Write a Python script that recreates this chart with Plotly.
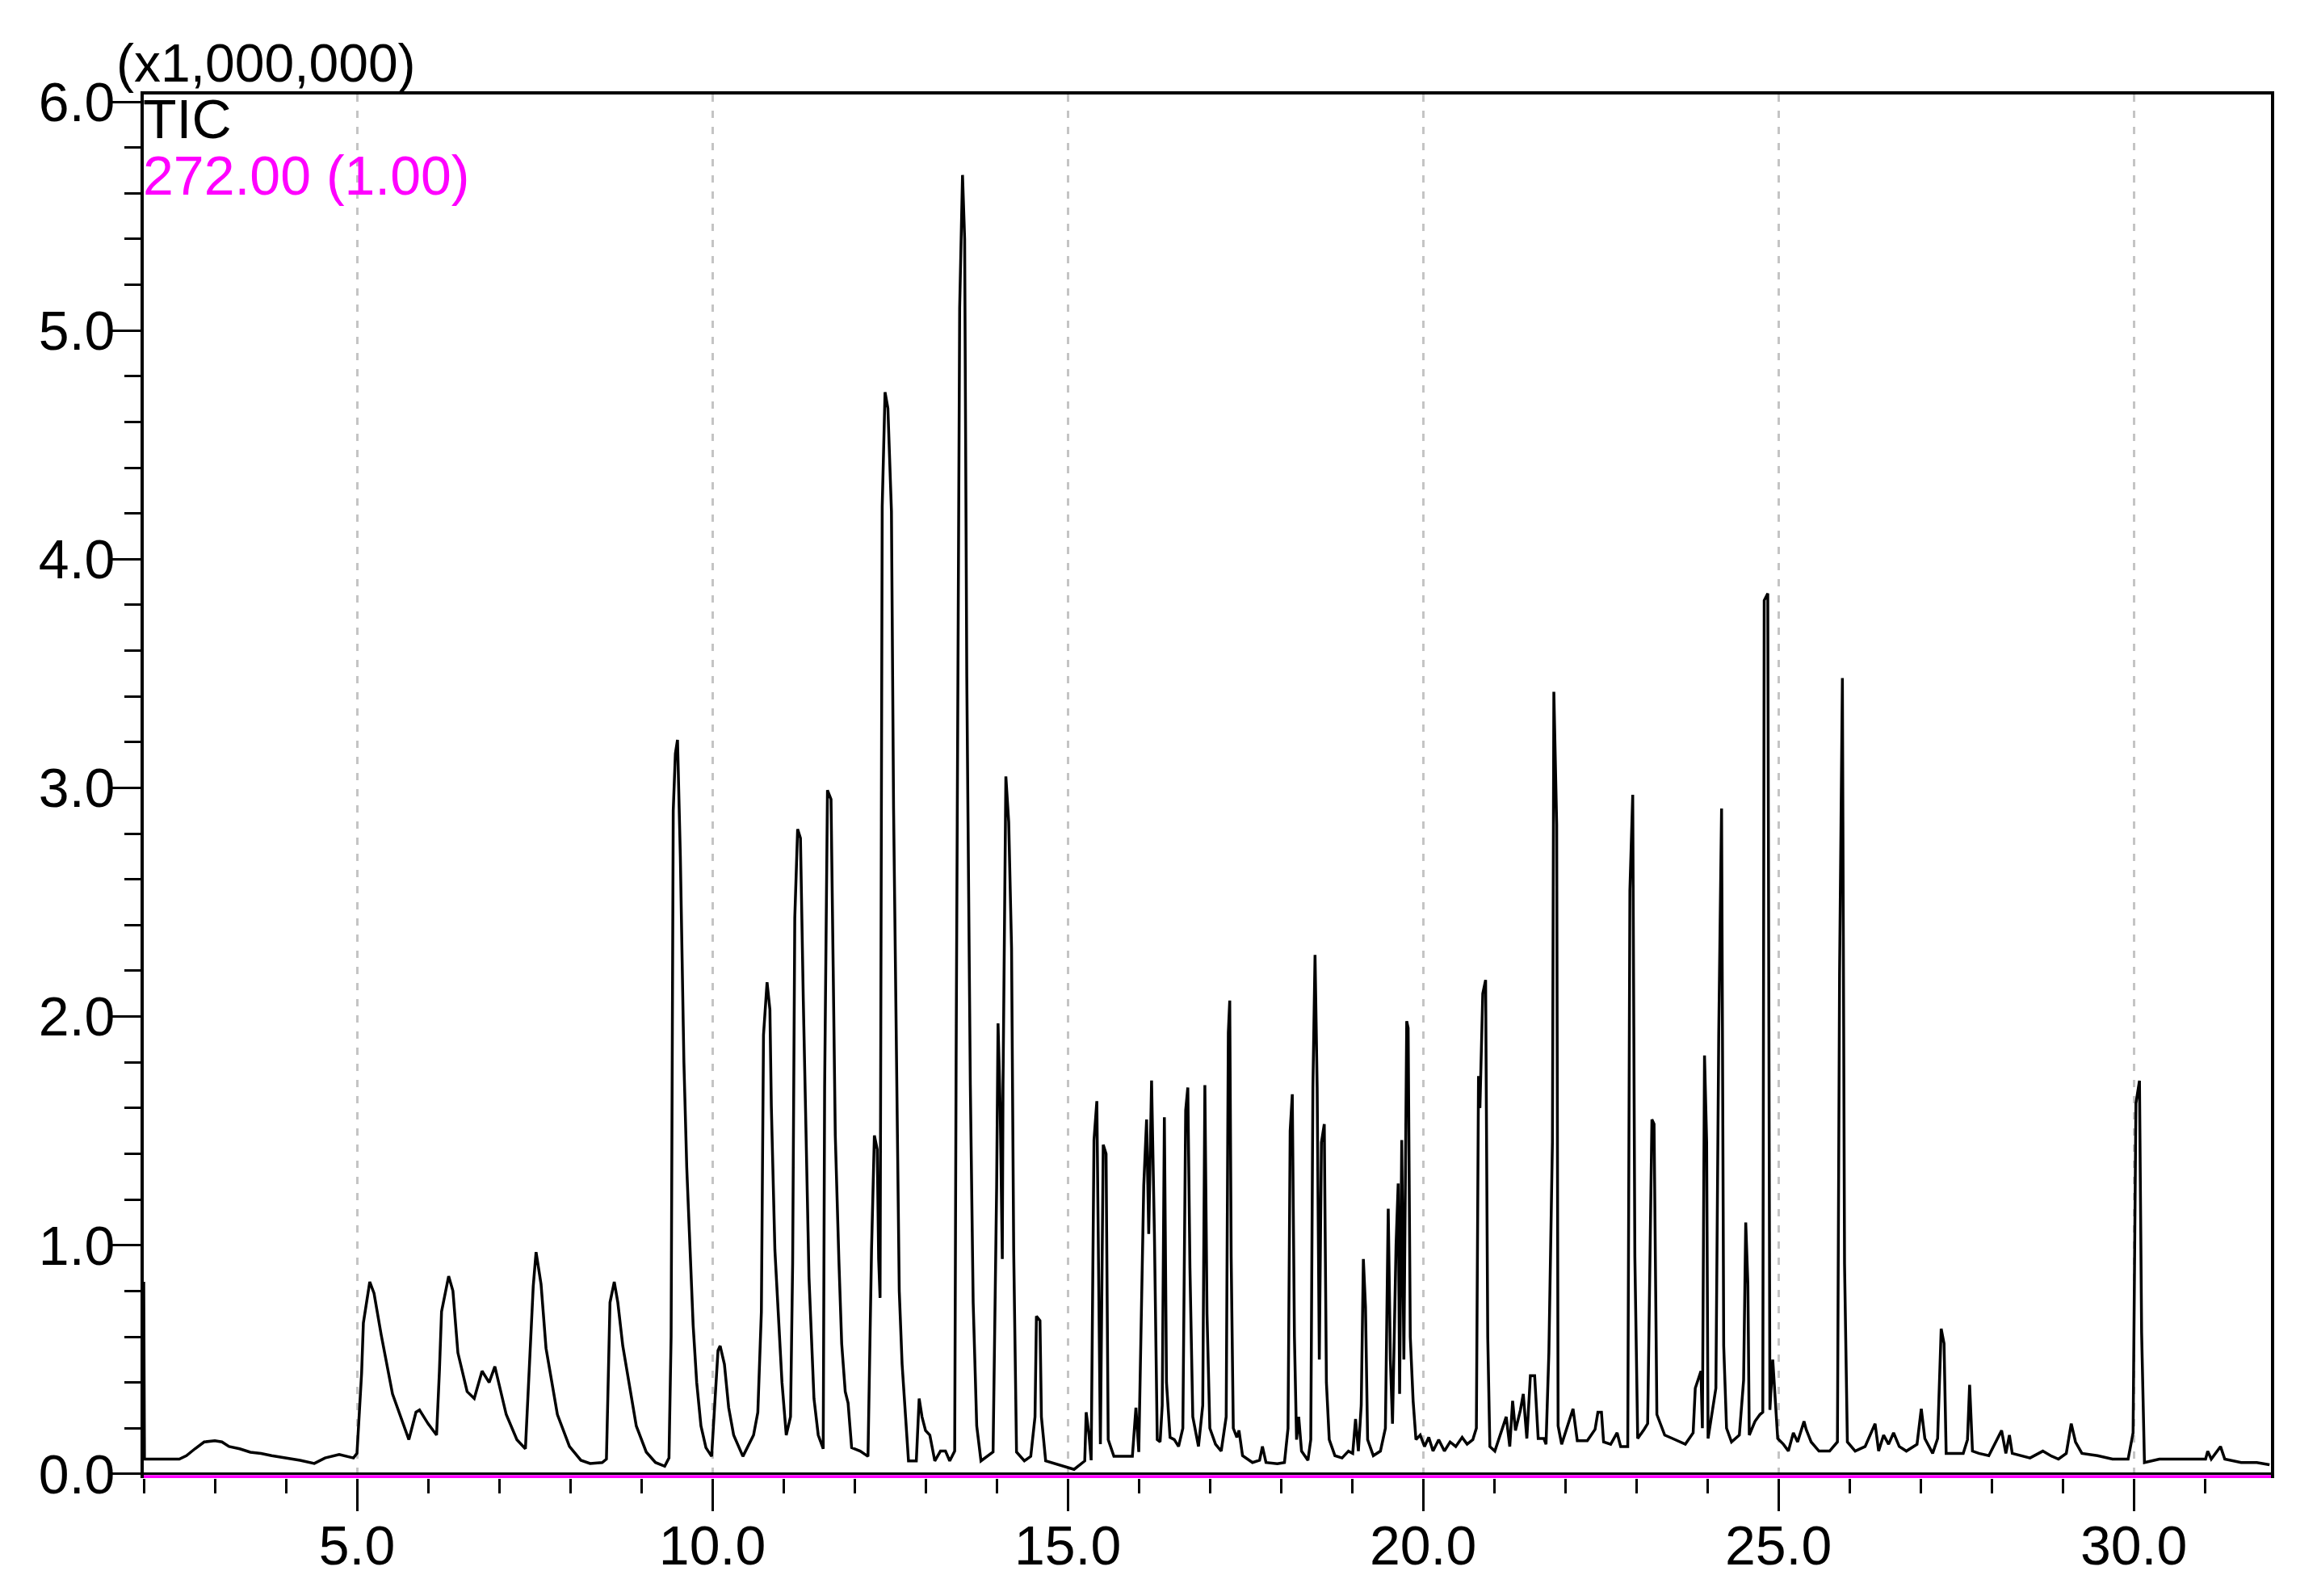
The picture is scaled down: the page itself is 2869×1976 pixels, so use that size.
"""GC-MS total ion chromatogram (TIC) rebuilt with Plotly."""

import plotly.graph_objects as go

INK = "#000000"
MAGENTA = "#ff00ff"
GRID = "#c4c4c4"
FONT = "Liberation Sans, Arial, sans-serif"

# retention time (min), intensity (x1,000,000)
tic_2_to_10 = [
    (2.00, 0.84), (2.01, 0.065), (2.50, 0.065), (2.60, 0.08), (2.72, 0.11),
    (2.85, 0.14), (3.00, 0.145), (3.10, 0.14), (3.20, 0.12), (3.35, 0.11),
    (3.50, 0.095), (3.65, 0.09), (3.80, 0.08), (4.00, 0.07), (4.20, 0.06),
    (4.40, 0.046), (4.55, 0.07), (4.75, 0.085), (4.95, 0.07), (5.00, 0.09),
    (5.03, 0.25), (5.065, 0.44), (5.09, 0.66), (5.18, 0.84), (5.24, 0.79),
    (5.34, 0.61), (5.50, 0.35), (5.73, 0.15), (5.83, 0.27), (5.88, 0.28),
    (6.00, 0.22), (6.12, 0.17), (6.16, 0.45), (6.19, 0.71), (6.29, 0.865),
    (6.35, 0.80), (6.42, 0.53), (6.55, 0.36), (6.65, 0.33), (6.76, 0.45),
    (6.86, 0.40), (6.94, 0.47), (7.10, 0.26), (7.25, 0.15), (7.37, 0.11),
    (7.43, 0.53), (7.48, 0.82), (7.52, 0.97), (7.59, 0.83), (7.66, 0.55),
    (7.82, 0.26), (7.99, 0.12), (8.15, 0.06), (8.28, 0.046), (8.45, 0.05),
    (8.51, 0.065), (8.56, 0.75), (8.62, 0.84), (8.67, 0.75), (8.74, 0.56),
    (8.93, 0.21), (9.07, 0.096), (9.20, 0.05), (9.33, 0.034), (9.39, 0.07),
    (9.42, 0.60), (9.45, 2.90), (9.48, 3.15), (9.51, 3.21), (9.55, 2.70),
    (9.60, 1.80), (9.64, 1.34), (9.69, 0.94), (9.73, 0.65), (9.78, 0.40),
    (9.84, 0.21), (9.91, 0.115), (9.99, 0.077),
]

tic_10_to_16 = [
    (10.035, 0.31), (10.08, 0.54), (10.11, 0.56), (10.17, 0.48), (10.23, 0.29),
    (10.30, 0.17), (10.43, 0.077), (10.58, 0.17), (10.64, 0.27), (10.69, 0.71),
    (10.72, 1.92), (10.77, 2.15), (10.81, 2.03), (10.83, 1.61), (10.88, 0.98),
    (10.94, 0.65), (10.98, 0.40), (11.04, 0.17), (11.10, 0.25), (11.13, 0.92),
    (11.16, 2.43), (11.20, 2.82), (11.24, 2.78), (11.28, 2.07), (11.32, 1.42),
    (11.36, 0.86), (11.43, 0.33), (11.49, 0.17), (11.56, 0.11), (11.58, 1.69),
    (11.62, 2.99), (11.67, 2.95), (11.70, 2.22), (11.73, 1.48), (11.78, 0.94),
    (11.82, 0.57), (11.87, 0.36), (11.91, 0.31), (11.96, 0.115), (12.08, 0.10),
    (12.19, 0.077), (12.24, 0.98), (12.28, 1.48), (12.32, 1.42), (12.34, 0.94),
    (12.36, 0.77), (12.39, 4.23), (12.43, 4.73), (12.47, 4.66), (12.52, 4.21),
    (12.55, 2.91), (12.60, 1.72), (12.63, 0.80), (12.67, 0.48), (12.71, 0.27),
    (12.76, 0.057), (12.87, 0.057), (12.91, 0.33), (12.95, 0.25), (13.00, 0.19),
    (13.06, 0.17), (13.13, 0.057), (13.21, 0.10), (13.28, 0.10), (13.34, 0.057),
    (13.41, 0.10), (13.43, 1.80), (13.48, 5.10), (13.52, 5.68), (13.55, 5.40),
    (13.58, 3.49), (13.63, 1.70), (13.67, 0.75), (13.72, 0.21), (13.78, 0.057),
    (13.95, 0.096), (14.00, 1.25), (14.02, 1.97), (14.05, 1.61), (14.08, 0.94),
    (14.09, 1.70), (14.13, 3.05), (14.17, 2.85), (14.21, 2.30), (14.24, 0.98),
    (14.28, 0.096), (14.39, 0.057), (14.48, 0.077), (14.54, 0.25), (14.56, 0.69),
    (14.61, 0.67), (14.63, 0.25), (14.69, 0.057), (14.87, 0.04), (15.09, 0.02),
    (15.24, 0.057), (15.26, 0.27), (15.30, 0.17), (15.33, 0.06), (15.37, 1.46),
    (15.41, 1.63), (15.46, 0.13), (15.50, 1.44), (15.54, 1.40), (15.57, 0.15),
    (15.65, 0.077), (15.91, 0.077), (15.96, 0.29), (16.00, 0.096), (16.07, 1.26),
    (16.11, 1.55), (16.14, 1.05), (16.18, 1.72), (16.22, 1.05), (16.26, 0.15),
]

tic_16_to_21 = [
    (16.30, 0.14), (16.33, 0.30), (16.36, 1.56), (16.39, 0.40), (16.44, 0.16),
    (16.50, 0.15), (16.56, 0.12), (16.62, 0.20), (16.66, 1.59), (16.69, 1.69),
    (16.72, 0.90), (16.76, 0.25), (16.84, 0.12), (16.90, 0.30), (16.93, 1.70),
    (16.96, 0.70), (17.00, 0.20), (17.08, 0.13), (17.16, 0.10), (17.23, 0.25),
    (17.26, 1.93), (17.28, 2.07), (17.30, 0.95), (17.33, 0.20), (17.38, 0.16),
    (17.41, 0.19), (17.46, 0.08), (17.60, 0.05), (17.70, 0.06), (17.74, 0.12),
    (17.79, 0.05), (17.95, 0.045), (18.05, 0.05), (18.10, 0.20), (18.13, 1.50),
    (18.16, 1.66), (18.19, 0.60), (18.22, 0.15), (18.25, 0.25), (18.29, 0.10),
    (18.38, 0.06), (18.42, 0.15), (18.45, 1.69), (18.48, 2.27), (18.51, 1.69),
    (18.54, 0.50), (18.57, 1.45), (18.61, 1.53), (18.64, 0.40), (18.68, 0.15),
    (18.76, 0.08), (18.86, 0.07), (18.95, 0.10), (19.01, 0.09), (19.05, 0.24),
    (19.09, 0.10), (19.13, 0.30), (19.16, 0.94), (19.19, 0.73), (19.22, 0.15),
    (19.30, 0.08), (19.40, 0.10), (19.47, 0.20), (19.51, 1.16), (19.54, 0.50),
    (19.57, 0.22), (19.62, 1.00), (19.65, 1.27), (19.67, 0.35), (19.70, 1.46),
    (19.73, 0.50), (19.77, 1.98), (19.79, 1.95), (19.82, 0.60), (19.86, 0.32),
    (19.90, 0.15), (19.96, 0.17), (20.02, 0.12), (20.08, 0.16), (20.14, 0.10),
    (20.22, 0.15), (20.30, 0.10), (20.38, 0.14), (20.46, 0.12), (20.55, 0.16),
    (20.62, 0.13), (20.70, 0.15), (20.75, 0.20), (20.78, 1.74), (20.80, 1.60),
    (20.84, 2.10), (20.88, 2.16), (20.91, 0.60), (20.94, 0.12),
]

tic_21_to_32 = [
    (21.01, 0.10), (21.17, 0.25), (21.22, 0.12), (21.26, 0.32), (21.30, 0.19),
    (21.37, 0.28), (21.41, 0.35), (21.46, 0.155), (21.51, 0.43), (21.57, 0.43),
    (21.62, 0.155), (21.70, 0.155), (21.73, 0.13), (21.77, 0.53), (21.82, 1.45),
    (21.84, 3.42), (21.88, 2.84), (21.90, 0.21), (21.95, 0.13), (22.08, 0.26),
    (22.11, 0.285), (22.17, 0.145), (22.31, 0.145), (22.42, 0.195), (22.46, 0.27),
    (22.51, 0.27), (22.54, 0.14), (22.64, 0.13), (22.73, 0.18), (22.78, 0.12),
    (22.88, 0.12), (22.91, 2.55), (22.95, 2.97), (22.98, 0.95), (23.02, 0.155),
    (23.11, 0.195), (23.16, 0.22), (23.22, 1.55), (23.25, 1.53), (23.29, 0.26),
    (23.40, 0.17), (23.51, 0.155), (23.69, 0.13), (23.80, 0.18), (23.83, 0.375),
    (23.91, 0.45), (23.93, 0.20), (23.96, 1.83), (23.99, 1.45), (24.01, 0.155),
    (24.09, 0.32), (24.12, 0.375), (24.16, 1.92), (24.20, 2.91), (24.23, 0.56),
    (24.27, 0.20), (24.34, 0.14), (24.45, 0.17), (24.51, 0.41), (24.54, 1.10),
    (24.57, 0.83), (24.59, 0.17), (24.67, 0.23), (24.74, 0.26), (24.78, 0.27),
    (24.80, 3.82), (24.85, 3.85), (24.88, 0.28), (24.92, 0.50), (24.96, 0.31),
    (24.99, 0.155), (25.07, 0.13), (25.14, 0.10), (25.21, 0.18), (25.27, 0.14),
    (25.36, 0.23), (25.39, 0.195), (25.46, 0.14), (25.57, 0.10), (25.72, 0.10),
    (25.83, 0.14), (25.86, 2.18), (25.90, 3.48), (25.93, 0.92), (25.97, 0.14),
    (26.08, 0.10), (26.22, 0.12), (26.36, 0.22), (26.41, 0.10), (26.48, 0.17),
    (26.55, 0.13), (26.62, 0.18), (26.70, 0.12), (26.80, 0.10), (26.95, 0.13),
    (27.01, 0.285), (27.06, 0.155), (27.17, 0.09), (27.24, 0.155), (27.29, 0.635),
    (27.33, 0.57), (27.36, 0.09), (27.46, 0.09), (27.60, 0.09), (27.66, 0.15),
    (27.69, 0.39), (27.73, 0.10), (27.82, 0.09), (27.96, 0.08), (28.14, 0.19),
    (28.20, 0.09), (28.25, 0.17), (28.29, 0.09), (28.40, 0.08), (28.54, 0.07),
    (28.72, 0.10), (28.83, 0.08), (28.94, 0.065), (29.05, 0.09), (29.12, 0.22),
    (29.18, 0.14), (29.27, 0.09), (29.49, 0.08), (29.70, 0.065), (29.92, 0.065),
    (29.99, 0.18), (30.03, 1.62), (30.08, 1.72), (30.11, 0.62), (30.15, 0.05),
    (30.36, 0.065), (30.57, 0.065), (30.79, 0.065), (31.01, 0.065), (31.04, 0.10),
    (31.09, 0.065), (31.22, 0.12), (31.28, 0.065), (31.51, 0.05), (31.73, 0.05),
    (31.91, 0.04),
]

# m/z 272 channel (magnification 1.00) stays flat at zero over the run
mz272_rt = [2.0, 31.93]
mz272_int = [0.0, 0.0]

x_range = [2.0, 31.93]
y_range = [-0.018, 6.032]
y2_shift = 0.012

tic = tic_2_to_10 + tic_10_to_16 + tic_16_to_21 + tic_21_to_32
rt = [p[0] for p in tic]
intensity = [p[1] for p in tic]

fig = go.Figure()
fig.add_trace(
    go.Scatter(
        x=rt, y=intensity, mode="lines",
        line={"color": INK, "width": 3.5},
        xaxis="x", yaxis="y",
    )
)
fig.add_trace(
    go.Scatter(
        x=mz272_rt, y=mz272_int, mode="lines",
        line={"color": MAGENTA, "width": 4},
        xaxis="x2", yaxis="y2",
    )
)

tick_font = {"family": FONT, "size": 68, "color": INK}

# the page body adds an 8px offset, so the canvas is 8px smaller each way
fig.update_layout(
    width=2861,
    height=1968,
    margin={"l": 170, "r": 57, "t": 109, "b": 146},
    paper_bgcolor="white",
    plot_bgcolor="white",
    showlegend=False,
    font={"family": FONT, "color": INK},
    xaxis={
        "range": x_range,
        "tick0": 0, "dtick": 5, "tickformat": ".1f",
        "ticks": "outside", "ticklen": 40, "tickwidth": 3, "tickcolor": INK,
        "tickfont": tick_font, "ticklabelstandoff": -16,
        "showgrid": True, "gridcolor": GRID, "gridwidth": 3, "griddash": "9px,11px",
        "showline": False, "zeroline": False,
        "minor": {"tick0": 0, "dtick": 1, "ticks": "outside", "ticklen": 18,
                  "tickwidth": 3, "tickcolor": INK, "showgrid": False},
    },
    xaxis2={
        "range": x_range, "overlaying": "x", "side": "top",
        "showline": True, "linewidth": 4, "linecolor": INK,
        "showticklabels": False, "ticks": "", "showgrid": False, "zeroline": False,
    },
    yaxis={
        "range": y_range,
        "tick0": 0, "dtick": 1, "tickformat": ".1f",
        "ticks": "outside", "ticklen": 36, "tickwidth": 3, "tickcolor": INK,
        "tickfont": tick_font, "ticklabelstandoff": -18,
        "showline": True, "linewidth": 4, "linecolor": INK, "mirror": True,
        "showgrid": False,
        "zeroline": True, "zerolinecolor": INK, "zerolinewidth": 3,
        "minor": {"tick0": 0, "dtick": 0.2, "ticks": "outside", "ticklen": 20,
                  "tickwidth": 3, "tickcolor": INK, "showgrid": False},
    },
    yaxis2={
        "range": [y_range[0] + y2_shift, y_range[1] + y2_shift],
        "overlaying": "y", "visible": False,
    },
)

fig.add_annotation(
    text="(x1,000,000)", xref="paper", yref="paper", x=-0.0135, y=1.0225,
    xanchor="left", yanchor="middle", showarrow=False,
    font={"family": FONT, "size": 66, "color": INK},
)
fig.add_annotation(
    text="TIC", xref="paper", yref="paper", x=-0.001, y=0.9825,
    xanchor="left", yanchor="middle", showarrow=False,
    font={"family": FONT, "size": 68, "color": INK},
)
fig.add_annotation(
    text="272.00 (1.00)", xref="paper", yref="paper", x=-0.001, y=0.9416,
    xanchor="left", yanchor="middle", showarrow=False,
    font={"family": FONT, "size": 68, "color": MAGENTA},
)

fig.write_html("out.html")
